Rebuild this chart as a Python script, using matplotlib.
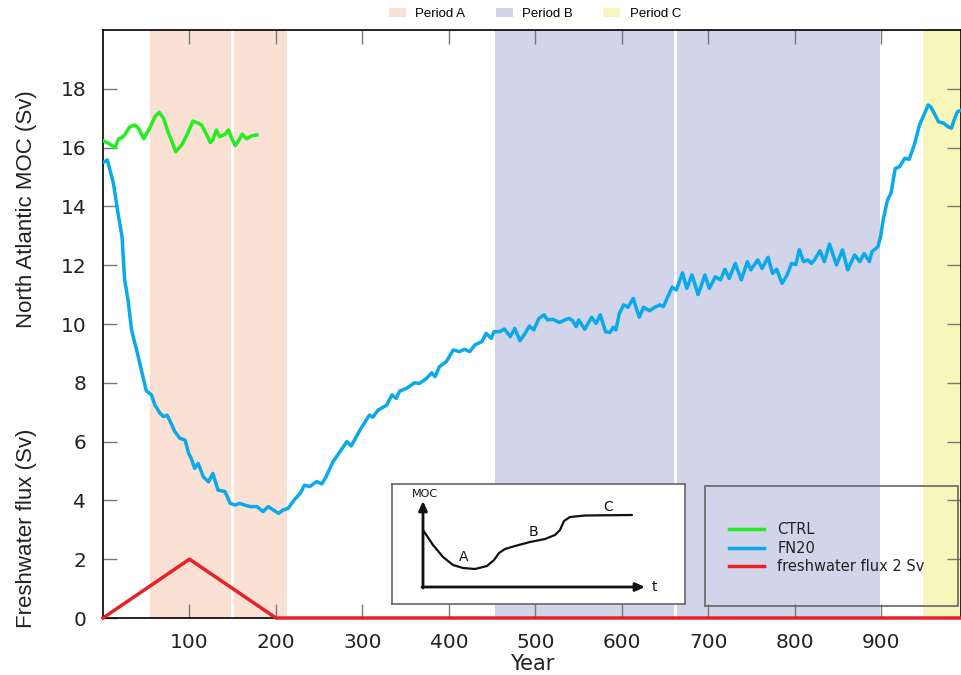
import matplotlib
matplotlib.use("Agg")
import matplotlib.pyplot as plt
from matplotlib.patches import Patch, Rectangle
from matplotlib.lines import Line2D

# ---------------- data ----------------
ctrl_years = [1, 6, 14, 18, 22, 25, 31, 37, 41, 47, 54, 60, 65, 70, 75, 79, 84, 91, 97,
              104, 110, 114, 120, 124, 127, 131, 135, 141, 145, 149, 153, 156, 161, 166, 172, 178]
ctrl_vals = [16.22, 16.15, 16.0, 16.3, 16.34, 16.43, 16.71, 16.77, 16.66, 16.3, 16.66, 17.05,
             17.2, 17.0, 16.55, 16.26, 15.86, 16.09, 16.43, 16.9, 16.83, 16.77, 16.43, 16.17,
             16.26, 16.6, 16.37, 16.45, 16.6, 16.3, 16.07, 16.2, 16.46, 16.3, 16.4, 16.43]

fn_years = [0, 2, 5, 12, 18, 22, 25, 29, 33, 39, 43, 47, 50, 56, 60, 66, 70, 74, 77, 83, 89, 95,
            99, 102, 106, 110, 116, 122, 127, 133, 141, 147, 153, 158, 164, 170, 178, 185, 191,
            197, 203, 208, 214, 222, 228, 233, 239, 247, 253, 258, 266, 274, 282, 287, 297, 308,
            312, 318, 328, 334, 339, 343, 351, 360, 366, 374, 380, 384, 389, 397, 405, 412, 418,
            424, 430, 438, 443, 449, 452, 459, 464, 471, 476, 482, 488, 493, 498, 504, 510, 514,
            520, 528, 534, 539, 543, 547, 550, 557, 565, 570, 575, 581, 586, 590, 593, 597, 602,
            607, 613, 620, 625, 632, 638, 644, 648, 653, 658, 663, 670, 675, 681, 688, 696, 701,
            708, 714, 719, 724, 731, 738, 745, 749, 757, 762, 769, 774, 779, 785, 791, 796, 801,
            805, 810, 815, 819, 823, 829, 834, 840, 848, 855, 861, 869, 875, 880, 886, 889, 896,
            899, 902, 907, 911, 916, 921, 927, 932, 938, 944, 950, 954, 957, 961, 966, 972, 977,
            981, 984, 988, 991]
fn_vals = [15.5, 15.52, 15.58, 14.79, 13.65, 12.97, 11.5, 10.8, 9.8, 9.1, 8.6, 8.1, 7.73, 7.59,
           7.24, 6.96, 6.85, 6.9, 6.73, 6.34, 6.11, 6.05, 5.6, 5.43, 5.09, 5.26, 4.8, 4.63, 4.92,
           4.35, 4.3, 3.9, 3.84, 3.9, 3.84, 3.79, 3.79, 3.62, 3.79, 3.67, 3.56, 3.67, 3.73, 4.05,
           4.24, 4.52, 4.47, 4.64, 4.56, 4.81, 5.32, 5.66, 6.0, 5.85, 6.39, 6.9, 6.83, 7.07, 7.24,
           7.59, 7.47, 7.72, 7.81, 8.0, 7.98, 8.15, 8.34, 8.21, 8.55, 8.72, 9.12, 9.06, 9.14, 9.06,
           9.29, 9.4, 9.68, 9.51, 9.74, 9.74, 9.83, 9.57, 9.85, 9.43, 9.68, 9.93, 9.8, 10.19, 10.31,
           10.14, 10.16, 10.05, 10.14, 10.19, 10.11, 9.91, 10.14, 9.82, 10.23, 10.02, 10.31, 9.74,
           9.71, 9.89, 9.8, 10.36, 10.65, 10.57, 10.87, 10.23, 10.57, 10.45, 10.57, 10.65, 10.59,
           10.93, 11.25, 11.16, 11.74, 11.21, 11.67, 11.0, 11.67, 11.21, 11.61, 11.5, 11.86, 11.55,
           12.06, 11.5, 12.12, 11.84, 12.18, 11.89, 12.27, 11.72, 11.86, 11.38, 11.67, 12.06,
           12.02, 12.53, 12.12, 12.18, 12.06, 12.2, 12.49, 12.12, 12.72, 12.01, 12.52, 11.84,
           12.35, 12.12, 12.4, 12.12, 12.46, 12.63, 12.97, 13.54, 14.22, 14.44, 15.29, 15.35,
           15.64, 15.6, 16.09, 16.77, 17.17, 17.45, 17.39, 17.17, 16.88, 16.83, 16.71, 16.66,
           16.94, 17.22, 17.26]

flux_years = [0, 100, 200, 992]
flux_vals = [0, 2, 0, 0]

period_names = ["Period A", "Period B", "Period C"]
period_spans = [(54, 213), (453, 898), (948, 1000)]
period_splits = [149, 661]

x_ticks = [100, 200, 300, 400, 500, 600, 700, 800, 900]
y_ticks = [0, 2, 4, 6, 8, 10, 12, 14, 16, 18]

# conceptual inset curve (schematic units)
concept_t = [0, 10, 20, 30, 40, 52, 64, 71, 76, 82, 92, 107, 122, 132, 137, 141, 147, 162, 209]
concept_moc = [57, 42, 30, 22, 19, 18, 21, 27, 34, 38, 41, 45, 48, 52, 57, 66, 70, 71.5, 72]

# ---------------- styling ----------------
col_A = "#fbe1d4"
col_B = "#d2d4ea"
col_C = "#f8f6ba"
col_ctrl = "#22ee22"
col_fn = "#0aa9ea"
col_flux = "#e8202a"
period_cols = [col_A, col_B, col_C]
txt = "#222222"

fig = plt.figure(figsize=(9.61, 6.75), dpi=100)
ax = fig.add_axes([103 / 961, 57 / 675, 858 / 961, 588 / 675])

for (a, b), c in zip(period_spans, period_cols):
    ax.axvspan(a, b, color=c, lw=0, zorder=0)
for s in period_splits:
    ax.axvline(s, color="white", lw=2, zorder=1)

ax.plot(ctrl_years, ctrl_vals, color=col_ctrl, lw=2.5, solid_joinstyle="round", zorder=3)
ax.plot(fn_years, fn_vals, color=col_fn, lw=2.5, solid_joinstyle="round", zorder=3)
ax.plot(flux_years, flux_vals, color=col_flux, lw=2.5, zorder=4, clip_on=False)

ax.set_xlim(0, 992)
ax.set_ylim(0, 20)
ax.set_xticks(x_ticks)
ax.set_yticks(y_ticks)
ax.tick_params(axis="both", direction="in", length=10, width=1, color="#777777",
               labelsize=14.5, top=True, right=True, labelcolor=txt)
ax.tick_params(axis="y", pad=12)
ax.tick_params(axis="x", pad=11)
for sp in ax.spines.values():
    sp.set_color("black")
    sp.set_linewidth(1.2)
ax.set_xlabel("Year", fontsize=15, labelpad=1, color=txt)

fig.text(27 / 961, 1 - 209 / 675, "North Atlantic MOC (Sv)", rotation=90, ha="center",
         va="center", fontsize=16, family="Liberation Sans", color=txt)
fig.text(27 / 961, 1 - 528 / 675, "Freshwater flux (Sv)", rotation=90, ha="center",
         va="center", fontsize=16, family="Liberation Sans", color=txt)

# top legend
handles = [Patch(facecolor=c, edgecolor="none") for c in period_cols]
fig.legend(handles, period_names, loc="center", bbox_to_anchor=(535 / 961, 1 - 14 / 675),
           ncol=3, frameon=False, handlelength=1.3, handleheight=0.7, handletextpad=0.7,
           columnspacing=2.3, prop={"family": "Liberation Sans", "size": 9.5})

# series legend box
box = Rectangle((705 / 961, 1 - 606 / 675), 253 / 961, 120 / 675, transform=fig.transFigure,
                facecolor="none", edgecolor="#666666", lw=1.2, zorder=10)
fig.patches.append(box)
lh = [Line2D([0], [0], color=col_ctrl, lw=2.5),
      Line2D([0], [0], color=col_fn, lw=2.5),
      Line2D([0], [0], color=col_flux, lw=2.5)]
fig.legend(lh, ["CTRL", "FN20", "freshwater flux 2 Sv"], loc="upper left",
           bbox_to_anchor=(716 / 961, 1 - 509 / 675), frameon=False, fontsize=10.5,
           handlelength=2.4, labelspacing=0.25, handletextpad=0.9, labelcolor=txt)

# inset schematic
iax = fig.add_axes([392 / 961, 71 / 675, 293 / 961, 120 / 675])
iax.set_facecolor("white")
for sp in iax.spines.values():
    sp.set_color("#666666")
    sp.set_linewidth(1.2)
iax.set_xticks([])
iax.set_yticks([])
iax.set_xlim(-31, 262)
iax.set_ylim(-17, 103)
arrow = dict(arrowstyle="-|>,head_width=0.25,head_length=0.55", lw=2, color="#111111",
             shrinkA=0, shrinkB=0)
iax.annotate("", xy=(0, 86), xytext=(0, -1), arrowprops=arrow)
iax.annotate("", xy=(222, 0), xytext=(-1, 0), arrowprops=arrow)
iax.plot(concept_t, concept_moc, color="#111111", lw=1.6, solid_capstyle="round")
iax.text(2, 93, "MOC", fontsize=8, ha="center", va="center", color="#111111")
iax.text(229, 0, "t", fontsize=10, ha="left", va="center", color="#111111")
iax.text(41, 30, "A", fontsize=10, ha="center", va="center", color="#111111")
iax.text(110, 55, "B", fontsize=10, ha="center", va="center", color="#111111")
iax.text(185, 80, "C", fontsize=10, ha="center", va="center", color="#111111")

fig.savefig("out.png", dpi=100)
